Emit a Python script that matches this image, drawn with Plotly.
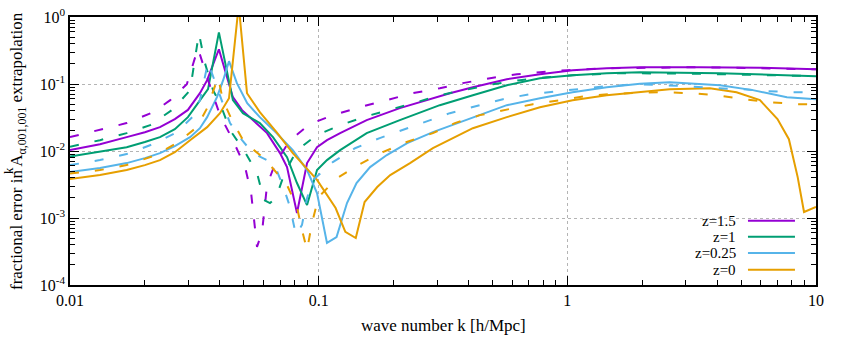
import plotly.graph_objects as go

# ---------------- data ----------------
# solid lines
k_z15 = [0.01, 0.0132, 0.0169, 0.02, 0.023, 0.0264, 0.0298, 0.0333, 0.0356, 0.0397, 0.0428, 0.0452, 0.0492, 0.0544, 0.062, 0.0699, 0.0746, 0.0818, 0.0898, 0.0985, 0.108, 0.122, 0.156, 0.212, 0.288, 0.337, 0.417, 0.571, 0.776, 1.05, 1.44, 1.96, 3.41, 5.95, 10]
err_z15 = [0.0103, 0.0126, 0.0161, 0.0191, 0.0227, 0.0299, 0.041, 0.0729, 0.114, 0.330, 0.126, 0.0636, 0.0407, 0.0289, 0.0185, 0.0093, 0.00575, 0.00119, 0.0066, 0.0114, 0.0145, 0.0185, 0.0289, 0.0436, 0.0614, 0.0729, 0.0896, 0.118, 0.140, 0.161, 0.172, 0.178, 0.178, 0.175, 0.166]

k_z1 = [0.01, 0.0132, 0.0169, 0.02, 0.023, 0.0264, 0.0298, 0.0327, 0.0359, 0.0397, 0.0428, 0.0452, 0.0496, 0.058, 0.0655, 0.0746, 0.0818, 0.0898, 0.0985, 0.108, 0.122, 0.156, 0.212, 0.307, 0.417, 0.571, 0.776, 1.05, 1.44, 1.96, 4.11, 10]
err_z1 = [0.0083, 0.00995, 0.0114, 0.0136, 0.0161, 0.0212, 0.032, 0.0518, 0.0837, 0.59, 0.161, 0.0574, 0.0367, 0.0261, 0.0161, 0.0081, 0.00333, 0.00156, 0.00519, 0.00732, 0.0103, 0.0185, 0.0289, 0.0483, 0.0681, 0.096, 0.122, 0.135, 0.145, 0.150, 0.145, 0.131]

k_z025 = [0.01, 0.0132, 0.0169, 0.02, 0.023, 0.0264, 0.0304, 0.0333, 0.0356, 0.039, 0.0413, 0.0436, 0.0469, 0.0516, 0.058, 0.0677, 0.0787, 0.0898, 0.0985, 0.108, 0.118, 0.130, 0.142, 0.161, 0.188, 0.227, 0.288, 0.417, 0.571, 0.776, 1.05, 1.44, 1.96, 2.58, 4.11, 5.57, 7.64, 10]
err_z025 = [0.00485, 0.00556, 0.0066, 0.00783, 0.0093, 0.0118, 0.0161, 0.0219, 0.032, 0.0636, 0.114, 0.219, 0.103, 0.0518, 0.032, 0.0185, 0.0103, 0.00519, 0.00236, 0.000425, 0.00052, 0.00167, 0.00333, 0.00575, 0.0087, 0.0131, 0.0191, 0.032, 0.0483, 0.0614, 0.0755, 0.0896, 0.101, 0.106, 0.096, 0.081, 0.0636, 0.0593]

k_z0 = [0.01, 0.0132, 0.0169, 0.02, 0.023, 0.0264, 0.0304, 0.0356, 0.0401, 0.0436, 0.0477, 0.0515, 0.058, 0.0677, 0.0787, 0.0985, 0.117, 0.128, 0.141, 0.153, 0.172, 0.194, 0.233, 0.288, 0.417, 0.571, 0.776, 1.05, 1.44, 1.96, 2.58, 3.74, 4.79, 5.95, 7.0, 7.78, 8.44, 8.95, 10]
err_z0 = [0.00381, 0.00438, 0.00519, 0.00616, 0.00732, 0.0096, 0.0145, 0.0227, 0.0367, 0.0614, 1.5, 0.0729, 0.038, 0.0191, 0.0093, 0.0037, 0.00141, 0.00062, 0.000503, 0.00173, 0.0029, 0.00438, 0.0066, 0.011, 0.0219, 0.032, 0.0451, 0.0574, 0.0681, 0.0755, 0.0837, 0.0866, 0.0755, 0.0574, 0.0299, 0.015, 0.00408, 0.00123, 0.00146]

# dashed lines
k_z15_d = [0.01, 0.0132, 0.0169, 0.0216, 0.0253, 0.0295, 0.0327, 0.0359, 0.0401, 0.0452, 0.0506, 0.0535, 0.0565, 0.0592, 0.062, 0.0667, 0.0767, 0.0922, 0.114, 0.1466, 0.188, 0.239, 0.307, 0.380, 0.489, 0.627, 0.776, 1.0, 1.44, 3.41, 10]
err_z15_d = [0.0161, 0.0205, 0.0261, 0.038, 0.0574, 0.0993, 0.342, 0.114, 0.0343, 0.0145, 0.00575, 0.00236, 0.00037, 0.00062, 0.0031, 0.00638, 0.0145, 0.0252, 0.0343, 0.0451, 0.0574, 0.0729, 0.0866, 0.103, 0.122, 0.140, 0.150, 0.161, 0.172, 0.178, 0.166]

k_z1_d = [0.01, 0.0132, 0.0169, 0.021, 0.026, 0.0304, 0.033, 0.0349, 0.0376, 0.0401, 0.044, 0.0506, 0.0565, 0.0603, 0.0637, 0.0673, 0.0732, 0.0818, 0.0985, 0.122, 0.156, 0.199, 0.248, 0.307, 0.502, 0.645, 0.828, 1.05, 1.63, 3.41, 10]
err_z1_d = [0.0116, 0.0145, 0.0185, 0.0243, 0.0421, 0.081, 0.571, 0.204, 0.081, 0.0518, 0.0205, 0.0096, 0.00469, 0.00185, 0.00167, 0.00199, 0.00485, 0.0103, 0.0173, 0.0243, 0.0331, 0.0421, 0.0535, 0.0681, 0.099, 0.114, 0.126, 0.135, 0.145, 0.142, 0.131]

k_z025_d = [0.01, 0.0132, 0.0169, 0.0216, 0.0269, 0.031, 0.0333, 0.0359, 0.039, 0.044, 0.0492, 0.0544, 0.062, 0.0677, 0.0719, 0.0767, 0.081, 0.0857, 0.0898, 0.0949, 0.114, 0.14, 0.176, 0.218, 0.28, 0.337, 0.445, 0.551, 0.707, 0.908, 1.155, 1.44, 1.905, 2.4, 3.05, 3.92, 5.03, 6.35, 8.07, 10]
err_z025_d = [0.00616, 0.00732, 0.009, 0.0127, 0.0191, 0.032, 0.0574, 0.211, 0.0896, 0.0261, 0.0145, 0.0093, 0.00732, 0.00519, 0.0030, 0.00146, 0.00056, 0.00079, 0.00199, 0.00368, 0.00684, 0.011, 0.0156, 0.0205, 0.0289, 0.0367, 0.0483, 0.0593, 0.0705, 0.0781, 0.0866, 0.0927, 0.0993, 0.096, 0.0927, 0.0866, 0.0837, 0.0781, 0.0755, 0.0755]

k_z0_d = [0.01, 0.0132, 0.0169, 0.0216, 0.0269, 0.0324, 0.0356, 0.0394, 0.0412, 0.0448, 0.0501, 0.0608, 0.0746, 0.0818, 0.0857, 0.0898, 0.094, 0.1, 0.1186, 0.1466, 0.181, 0.226, 0.288, 0.353, 0.445, 0.577, 0.727, 0.934, 1.18, 1.48, 1.905, 2.42, 3.11, 4.0, 5.08, 6.53, 8.37, 10]
err_z0_d = [0.0046, 0.00519, 0.00616, 0.0084, 0.0131, 0.0227, 0.0436, 0.126, 0.0574, 0.0289, 0.0136, 0.00757, 0.0031, 0.00146, 0.00066, 0.000333, 0.00084, 0.00206, 0.00394, 0.00638, 0.0096, 0.0136, 0.0185, 0.0261, 0.0343, 0.0421, 0.05, 0.0574, 0.0658, 0.0705, 0.0742, 0.0755, 0.0729, 0.0681, 0.0593, 0.0535, 0.05, 0.05]

legend_labels = ["z=1.5", "z=1", "z=0.25", "z=0"]
x_tickvals = [0.01, 0.1, 1, 10]
x_ticktext = ["0.01", "0.1", "1", "10"]
y_tickvals = [1e-4, 1e-3, 1e-2, 1e-1, 1]
y_ticktext = ["10<sup>-4</sup>", "10<sup>-3</sup>", "10<sup>-2</sup>", "10<sup>-1</sup>", "10<sup>0</sup>"]
x_title = "wave number k [h/Mpc]"
y_title = "fractional error in A<sub>α,001,001</sub> extrapolation"
y_title_sup = "k"

# ---------------- style ----------------
colors = ["#9400d3", "#009e73", "#56b4e9", "#e69f00"]
FONT = "Liberation Serif"
DASH = "9px,16px"

fig = go.Figure()

solid = [(k_z15, err_z15), (k_z1, err_z1), (k_z025, err_z025), (k_z0, err_z0)]
dashed = [(k_z15_d, err_z15_d), (k_z1_d, err_z1_d), (k_z025_d, err_z025_d), (k_z0_d, err_z0_d)]

for (k, e), c, name in zip(solid, colors, legend_labels):
    fig.add_trace(go.Scatter(x=k, y=e, mode="lines", name=name,
                             line=dict(color=c, width=2), showlegend=False))
for (k, e), c, name in zip(dashed, colors, legend_labels):
    fig.add_trace(go.Scatter(x=k, y=e, mode="lines", name=name + " (dashed)",
                             line=dict(color=c, width=2, dash=DASH), showlegend=False))

minor_vals = [m * 10.0 ** p for p in range(-4, 1) for m in range(2, 10)]

axis_common = dict(
    type="log", showline=True, linecolor="black", linewidth=1.5, mirror="allticks",
    ticks="inside", ticklen=9, tickwidth=1, tickcolor="black",
    showgrid=True, gridcolor="#b4b4b4", griddash="dot", gridwidth=1,
    zeroline=False, automargin=False,
    minor=dict(ticks="inside", ticklen=5, tickwidth=1, tickcolor="black",
               tickvals=minor_vals, showgrid=False),
    tickfont=dict(family=FONT, size=16, color="black"),
)

fig.update_layout(
    width=845, height=338,
    margin=dict(l=70, r=29, t=17, b=53, autoexpand=False),
    paper_bgcolor="white", plot_bgcolor="white",
    font=dict(family=FONT, size=15, color="black"),
    showlegend=False,
    xaxis=dict(axis_common, range=[-2, 1], tickvals=x_tickvals, ticktext=x_ticktext),
    yaxis=dict(axis_common, range=[-4, 0], tickvals=y_tickvals, ticktext=y_ticktext),
)

# axis titles
fig.add_annotation(text=x_title, xref="paper", yref="paper", x=0.5, y=-0.1528,
                   xanchor="center", yanchor="middle", showarrow=False,
                   font=dict(family=FONT, size=17))
fig.add_annotation(text=y_title, xref="paper", yref="paper", x=-0.0697, y=0.5,
                   xanchor="center", yanchor="middle", showarrow=False, textangle=-90,
                   font=dict(family=FONT, size=17))
fig.add_annotation(text=y_title_sup, xref="paper", yref="paper", x=-0.0831, y=0.425,
                   xanchor="center", yanchor="middle", showarrow=False, textangle=-90,
                   font=dict(family=FONT, size=13))

# manual legend: text on the left, line sample on the right
leg_y = [0.2397, 0.18, 0.1193, 0.057]
for lab, c, yy in zip(legend_labels, colors, leg_y):
    fig.add_annotation(text=lab, xref="paper", yref="paper", x=0.8954, y=yy,
                       xanchor="right", yanchor="middle", showarrow=False,
                       font=dict(family=FONT, size=15, color="black"))
    fig.add_shape(type="line", xref="paper", yref="paper", x0=0.9088, x1=0.9718,
                  y0=yy, y1=yy, line=dict(color=c, width=2))

fig.write_html("out.html", config={"displayModeBar": False},
               post_script="document.body.style.margin='0';document.body.style.overflow='hidden';")
